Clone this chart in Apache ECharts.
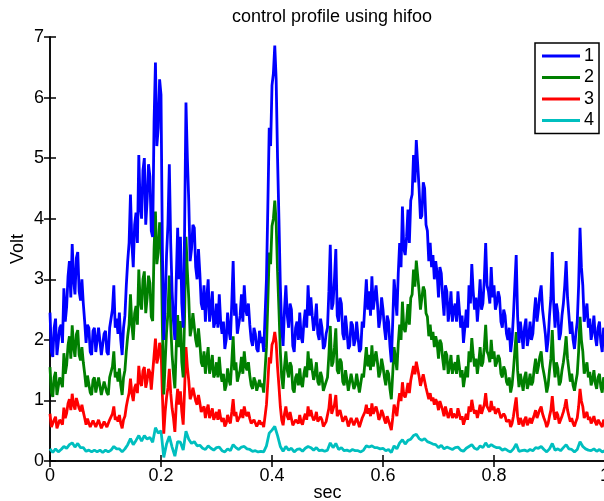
<!DOCTYPE html>
<html>
<head>
<meta charset="utf-8">
<script src="https://cdn.jsdelivr.net/npm/echarts@6/dist/echarts.min.js"></script>
<style>
  html, body { margin: 0; padding: 0; background: #fff; }
  #chart { width: 604px; height: 501px; }
</style>
</head>
<body>
<div id="chart"></div>
<script>
// Control voltage profiles for four channels over one second.
// Channels 1-3 are sampled every 2.5 ms, channel 4 every 5 ms.
const fineStep = 0.0025;
const coarseStep = 0.005;
const seriesNames = ['1', '2', '3', '4'];
const xTicks = [0, 0.2, 0.4, 0.6, 0.8, 1];
const yTicks = [0, 1, 2, 3, 4, 5, 6, 7];

const volt1 = [
  2.45,1.8,1.72,2.2,2.35,1.75,1.78,2.2,2.25,1.95,2.85,2.3,2.55,3.05,3.3,2.7,3.58,3.0,2.75,3.35,
  3.45,2.8,2.65,3.0,2.6,2.3,1.95,2.25,2.2,1.8,1.75,2.15,2.2,1.8,1.78,2.2,2.18,1.75,1.72,2.1,
  2.15,1.8,1.75,2.2,2.2,2.5,2.9,2.2,2.35,2.1,2.45,2.0,1.75,2.2,2.4,2.9,3.3,3.6,4.4,3.6,
  3.2,3.9,4.1,3.6,5.05,4.2,4.0,4.8,5.0,3.9,4.3,4.9,4.7,3.8,3.7,5.6,6.58,5.2,5.5,6.3,
  6.05,3.5,2.0,2.6,3.4,3.9,4.9,3.6,2.8,2.3,2.0,3.0,3.85,3.0,3.7,2.6,2.2,3.8,5.92,5.0,
  4.3,3.3,3.5,3.9,3.85,3.2,3.0,3.5,3.1,2.6,2.5,2.9,2.3,2.7,3.0,2.3,2.5,2.8,2.2,2.3,
  2.6,2.2,2.75,2.3,2.1,2.3,1.85,2.0,2.45,2.15,2.0,2.6,3.3,2.4,2.6,2.1,2.25,2.4,2.75,2.3,
  2.9,2.5,2.4,2.6,2.25,2.0,1.9,2.2,2.1,1.85,1.8,2.15,1.95,2.05,1.8,2.4,3.0,4.2,5.5,5.2,
  6.2,6.4,6.86,6.3,5.0,4.0,2.9,2.2,1.9,2.5,2.9,2.4,2.2,2.6,2.5,1.9,1.8,2.2,2.3,2.0,
  2.45,2.05,1.95,2.3,2.5,2.2,2.9,2.4,2.7,2.4,2.15,2.3,2.6,2.1,2.0,2.35,2.2,1.85,1.9,2.1,
  2.2,2.8,3.57,2.5,2.6,3.0,3.5,2.4,2.3,2.7,2.6,2.1,2.0,2.4,2.15,1.85,1.9,2.3,2.25,1.9,
  2.0,2.3,2.05,1.8,1.85,2.3,2.2,2.6,3.0,2.5,2.8,2.4,3.05,2.5,2.7,2.9,2.6,2.2,2.35,2.7,
  2.5,2.2,2.0,2.4,2.3,1.9,1.63,2.3,3.0,2.7,2.4,3.1,3.6,3.2,4.2,3.5,3.4,3.7,4.15,3.6,
  4.3,4.4,5.05,4.6,5.3,4.9,4.5,4.0,4.05,4.6,4.5,3.9,3.8,3.3,3.6,3.2,3.4,3.0,3.3,3.1,
  2.7,3.2,3.1,2.7,2.4,2.9,2.8,2.3,2.5,2.8,2.3,2.5,2.6,2.3,2.8,2.5,2.2,2.4,1.95,2.2,
  2.5,2.2,2.9,2.6,3.25,2.8,2.5,2.7,2.3,2.6,3.0,2.5,2.6,3.0,3.6,2.9,2.8,2.6,3.2,2.7,
  2.9,2.5,2.6,2.8,2.7,2.3,2.2,2.5,2.4,2.1,2.0,2.2,1.8,2.0,2.4,2.9,3.4,2.4,1.95,2.3,
  2.1,1.85,2.2,2.35,1.9,2.05,2.3,2.0,2.1,2.45,2.7,2.3,2.5,2.75,2.9,2.5,2.3,2.1,1.8,2.0,
  2.4,2.7,3.45,2.6,2.2,2.6,2.45,2.0,2.1,2.4,2.6,2.9,3.3,2.7,2.4,2.1,2.3,2.0,1.85,2.1,
  2.3,2.9,3.85,3.2,2.9,2.3,2.45,2.6,2.2,2.35,2.0,2.15,2.4,2.05,1.9,2.2,2.3,1.95,1.8,2.2,2.1
];

const volt2 = [
  1.55,1.13,1.06,1.38,1.47,1.09,1.11,1.38,1.41,1.22,1.78,1.44,1.59,1.91,2.06,1.69,2.24,1.88,1.72,2.09,
  2.16,1.75,1.66,1.88,1.63,1.44,1.22,1.41,1.38,1.13,1.09,1.34,1.38,1.13,1.11,1.38,1.36,1.09,1.08,1.31,
  1.34,1.13,1.09,1.38,1.38,1.56,1.81,1.38,1.47,1.31,1.53,1.25,1.09,1.38,1.5,1.81,2.06,2.25,2.75,2.25,
  2.0,2.44,2.56,2.25,3.16,2.63,2.5,3.0,3.13,2.44,2.69,3.06,2.94,2.38,2.31,3.5,4.12,3.25,3.44,3.94,
  3.78,2.19,1.1,1.63,2.13,2.44,3.06,2.25,1.75,1.44,1.2,1.88,2.41,1.88,2.31,1.63,1.38,2.38,3.7,3.13,
  2.69,2.06,2.19,2.44,2.41,2.0,1.88,2.19,1.94,1.63,1.56,1.81,1.44,1.69,1.88,1.44,1.56,1.75,1.38,1.44,
  1.63,1.38,1.72,1.44,1.31,1.44,1.16,1.25,1.53,1.34,1.25,1.63,2.06,1.5,1.63,1.31,1.41,1.5,1.72,1.44,
  1.81,1.56,1.5,1.63,1.41,1.25,1.19,1.38,1.31,1.16,1.13,1.34,1.22,1.28,1.13,1.5,1.88,2.63,3.44,3.25,
  3.88,4.0,4.3,3.94,3.13,2.5,1.81,1.38,1.19,1.56,1.81,1.5,1.38,1.63,1.56,1.19,1.13,1.38,1.44,1.25,
  1.53,1.28,1.22,1.44,1.56,1.38,1.81,1.5,1.69,1.5,1.34,1.44,1.63,1.31,1.25,1.47,1.38,1.16,1.19,1.31,
  1.38,1.75,2.23,1.56,1.63,1.88,2.19,1.5,1.44,1.69,1.63,1.31,1.25,1.5,1.34,1.16,1.19,1.44,1.41,1.19,
  1.25,1.44,1.28,1.13,1.16,1.44,1.38,1.63,1.88,1.56,1.75,1.5,1.91,1.56,1.69,1.81,1.63,1.38,1.47,1.69,
  1.56,1.38,1.25,1.5,1.44,1.19,1.02,1.44,1.88,1.69,1.5,1.94,2.25,2.0,2.63,2.19,2.13,2.31,2.59,2.25,
  2.69,2.75,3.16,2.88,3.31,3.06,2.81,2.5,2.53,2.88,2.81,2.44,2.38,2.06,2.25,2.0,2.13,1.88,2.06,1.94,
  1.69,2.0,1.94,1.69,1.5,1.81,1.75,1.44,1.56,1.75,1.44,1.56,1.63,1.44,1.75,1.56,1.38,1.5,1.22,1.38,
  1.56,1.38,1.81,1.63,2.03,1.75,1.56,1.69,1.44,1.63,1.88,1.56,1.63,1.88,2.25,1.81,1.75,1.63,2.0,1.69,
  1.81,1.56,1.63,1.75,1.69,1.44,1.38,1.56,1.5,1.31,1.25,1.38,1.13,1.25,1.5,1.81,2.13,1.5,1.22,1.44,
  1.31,1.16,1.38,1.47,1.19,1.28,1.44,1.25,1.31,1.53,1.69,1.44,1.56,1.72,1.81,1.56,1.44,1.31,1.13,1.25,
  1.5,1.69,2.16,1.63,1.38,1.63,1.53,1.25,1.31,1.5,1.63,1.81,2.06,1.69,1.5,1.31,1.44,1.25,1.16,1.31,
  1.44,1.81,2.38,2.0,1.81,1.44,1.53,1.63,1.38,1.47,1.25,1.34,1.5,1.28,1.19,1.38,1.44,1.22,1.13,1.38,1.31
];

const volt3 = [
  0.78,0.56,0.53,0.68,0.73,0.54,0.55,0.68,0.70,0.60,0.88,0.71,0.79,0.95,1.02,0.84,1.11,0.93,0.85,1.04,
  1.07,0.87,0.82,0.93,0.81,0.71,0.60,0.70,0.68,0.56,0.54,0.67,0.68,0.56,0.55,0.68,0.68,0.54,0.53,0.65,
  0.67,0.56,0.54,0.68,0.68,0.78,0.90,0.68,0.73,0.65,0.76,0.62,0.54,0.68,0.74,0.90,1.02,1.12,1.36,1.12,
  0.99,1.21,1.27,1.12,1.57,1.30,1.24,1.49,1.55,1.21,1.33,1.52,1.46,1.18,1.15,1.74,2.02,1.61,1.71,1.95,
  1.88,1.09,0.45,0.81,1.05,1.21,1.52,1.12,0.87,0.71,0.48,0.93,1.19,0.93,1.15,0.81,0.60,1.18,1.88,1.55,
  1.33,1.02,1.09,1.21,1.19,0.99,0.93,1.09,0.96,0.81,0.78,0.90,0.71,0.84,0.93,0.71,0.78,0.87,0.68,0.71,
  0.81,0.68,0.85,0.71,0.65,0.71,0.57,0.62,0.76,0.67,0.62,0.81,1.02,0.74,0.81,0.65,0.70,0.74,0.85,0.71,
  0.90,0.78,0.74,0.81,0.70,0.62,0.59,0.68,0.65,0.57,0.56,0.67,0.60,0.64,0.56,0.74,0.93,1.30,1.71,1.61,
  1.92,1.98,2.13,1.95,1.55,1.24,0.90,0.68,0.59,0.78,0.90,0.74,0.68,0.81,0.78,0.59,0.56,0.68,0.71,0.62,
  0.76,0.64,0.60,0.71,0.78,0.68,0.90,0.74,0.84,0.74,0.67,0.71,0.81,0.65,0.62,0.73,0.68,0.57,0.59,0.65,
  0.68,0.87,1.11,0.78,0.81,0.93,1.09,0.74,0.71,0.84,0.81,0.65,0.62,0.74,0.67,0.57,0.59,0.71,0.70,0.59,
  0.62,0.71,0.64,0.56,0.57,0.71,0.68,0.81,0.93,0.78,0.87,0.74,0.95,0.78,0.84,0.90,0.81,0.68,0.73,0.84,
  0.78,0.68,0.62,0.74,0.71,0.59,0.51,0.71,0.93,0.84,0.74,0.96,1.12,0.99,1.30,1.09,1.05,1.15,1.29,1.12,
  1.33,1.36,1.57,1.43,1.64,1.52,1.40,1.24,1.26,1.43,1.40,1.21,1.18,1.02,1.12,0.99,1.05,0.93,1.02,0.96,
  0.84,0.99,0.96,0.84,0.74,0.90,0.87,0.71,0.78,0.87,0.71,0.78,0.81,0.71,0.87,0.78,0.68,0.74,0.60,0.68,
  0.78,0.68,0.90,0.81,1.01,0.87,0.78,0.84,0.71,0.81,0.93,0.78,0.81,0.93,1.12,0.90,0.87,0.81,0.99,0.84,
  0.90,0.78,0.81,0.87,0.84,0.71,0.68,0.78,0.74,0.65,0.62,0.68,0.56,0.62,0.74,0.90,1.05,0.74,0.60,0.71,
  0.65,0.57,0.68,0.73,0.59,0.64,0.71,0.62,0.65,0.76,0.84,0.71,0.78,0.85,0.90,0.78,0.71,0.65,0.56,0.62,
  0.74,0.84,1.07,0.81,0.68,0.81,0.76,0.62,0.65,0.74,0.81,0.90,1.02,0.84,0.74,0.65,0.71,0.62,0.57,0.65,
  0.71,0.90,1.19,0.99,0.90,0.71,0.76,0.81,0.68,0.73,0.62,0.67,0.74,0.64,0.59,0.68,0.71,0.60,0.56,0.68,0.65
];

const volt4 = [
  0.20,0.14,0.20,0.15,0.19,0.24,0.21,0.27,0.30,0.23,
  0.29,0.22,0.22,0.16,0.18,0.15,0.18,0.15,0.18,0.14,
  0.18,0.15,0.18,0.24,0.20,0.20,0.15,0.20,0.27,0.37,
  0.27,0.34,0.42,0.33,0.42,0.36,0.39,0.31,0.55,0.46,
  0.50,0.06,0.28,0.41,0.23,0.08,0.32,0.31,0.18,0.49,
  0.36,0.29,0.32,0.25,0.26,0.21,0.19,0.25,0.21,0.18,
  0.22,0.23,0.17,0.15,0.20,0.17,0.27,0.22,0.19,0.23,
  0.24,0.20,0.19,0.16,0.17,0.15,0.16,0.15,0.25,0.46,
  0.51,0.57,0.42,0.24,0.16,0.24,0.18,0.21,0.15,0.19,
  0.20,0.16,0.21,0.24,0.22,0.18,0.22,0.17,0.18,0.16,
  0.18,0.30,0.22,0.29,0.19,0.22,0.17,0.18,0.16,0.19,
  0.17,0.17,0.15,0.18,0.25,0.23,0.25,0.22,0.22,0.20,
  0.21,0.17,0.19,0.14,0.25,0.20,0.30,0.35,0.28,0.34,
  0.36,0.42,0.44,0.37,0.34,0.37,0.32,0.30,0.28,0.27,
  0.22,0.26,0.20,0.23,0.21,0.19,0.22,0.23,0.18,0.16,
  0.21,0.24,0.27,0.21,0.19,0.25,0.22,0.30,0.23,0.27,
  0.24,0.22,0.22,0.18,0.20,0.17,0.15,0.20,0.28,0.16,
  0.17,0.18,0.16,0.19,0.17,0.22,0.21,0.24,0.19,0.15,
  0.20,0.29,0.18,0.20,0.17,0.22,0.27,0.20,0.19,0.15,
  0.19,0.32,0.24,0.20,0.18,0.17,0.20,0.16,0.19,0.15,0.17
];

const seriesValues = [volt1, volt2, volt3, volt4];
const seriesSteps = [fineStep, fineStep, fineStep, coarseStep];
const seriesColors = ['#0000ff', '#008000', '#ff0000', '#00bfbf'];

const FONT = "'Liberation Sans', Arial, Helvetica, sans-serif";

function toPairs(values, step) {
  return values.map((v, i) => [+(i * step).toFixed(4), v]);
}

const chart = echarts.init(document.getElementById('chart'), null, { renderer: 'canvas' });

const axisLine = { show: true, lineStyle: { color: '#000', width: 1.5 } };
const axisTick = { show: true, inside: true, length: 6, lineStyle: { color: '#000', width: 1.5 } };

chart.setOption({
  animation: false,
  backgroundColor: '#fff',
  textStyle: { fontFamily: FONT, color: '#000' },
  title: {
    text: 'control profile using hifoo',
    left: 327,
    top: 3,
    textAlign: 'center',
    textStyle: { fontFamily: FONT, fontSize: 18, fontWeight: 'normal', color: '#000' }
  },
  grid: { left: 50, top: 37, width: 555, height: 424, containLabel: false, outerBoundsMode: 'none' },
  legend: {
    data: seriesNames,
    orient: 'vertical',
    left: 535,
    top: 43,
    icon: 'rect',
    itemWidth: 38,
    itemHeight: 3,
    itemGap: 3.5,
    padding: [4, 5, 4, 7],
    backgroundColor: '#fff',
    borderColor: '#000',
    borderWidth: 1.5,
    textStyle: { fontFamily: FONT, fontSize: 18, lineHeight: 18, color: '#000', padding: [0, 0, 0, -1] }
  },
  xAxis: [
    {
      type: 'value', min: xTicks[0], max: xTicks[xTicks.length - 1], interval: 0.2,
      name: 'sec', nameLocation: 'middle', nameGap: 23, nameMoveOverlap: false,
      nameTextStyle: { fontFamily: FONT, fontSize: 18, color: '#000' },
      axisLine, axisTick,
      axisLabel: { fontFamily: FONT, fontSize: 18, color: '#000', margin: 6, showMaxLabel: true },
      splitLine: { show: false }
    },
    {
      type: 'value', position: 'top', min: xTicks[0], max: xTicks[xTicks.length - 1], interval: 0.2,
      axisLine, axisTick, axisLabel: { show: false }, splitLine: { show: false }
    }
  ],
  yAxis: [
    {
      type: 'value', min: yTicks[0], max: yTicks[yTicks.length - 1], interval: 1,
      name: 'Volt', nameLocation: 'middle', nameGap: 23, nameRotate: 90, nameMoveOverlap: false,
      nameTextStyle: { fontFamily: FONT, fontSize: 18, color: '#000' },
      axisLine, axisTick,
      axisLabel: { fontFamily: FONT, fontSize: 18, color: '#000', margin: 6 },
      splitLine: { show: false }
    },
    {
      type: 'value', position: 'right', min: yTicks[0], max: yTicks[yTicks.length - 1], interval: 1,
      axisLine, axisTick, axisLabel: { show: false }, splitLine: { show: false }
    }
  ],
  series: seriesNames.map((name, k) => ({
    name,
    type: 'line',
    xAxisIndex: 0,
    yAxisIndex: 0,
    data: toPairs(seriesValues[k], seriesSteps[k]),
    showSymbol: false,
    symbol: 'none',
    color: seriesColors[k],
    lineStyle: { color: seriesColors[k], width: 2.8 },
    z: 10 - k
  }))
});
</script>
</body>
</html>
